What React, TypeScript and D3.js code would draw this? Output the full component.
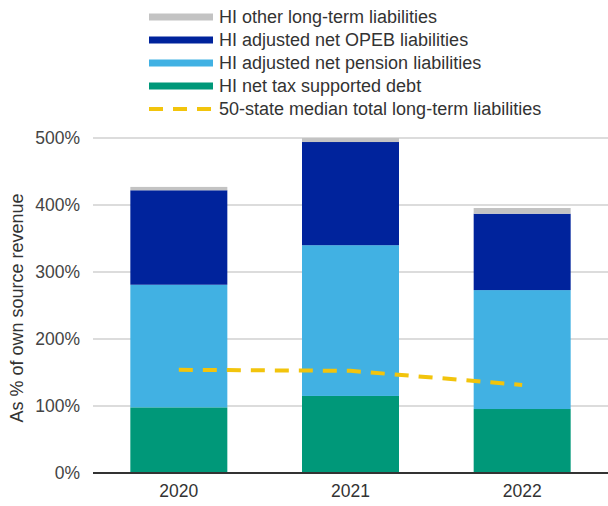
import React from "react";
import * as d3 from "d3";

const years = ["2020", "2021", "2022"];
const netTaxDebt = [98, 115, 95.5];
const pension = [183, 225, 177.5];
const opeb = [141, 154, 114];
const otherLiab = [5, 6, 8.5];
const medianTotal = [154, 152.5, 131.5];
const yTicks = [0, 100, 200, 300, 400, 500];

const seriesNames = [
  "HI net tax supported debt",
  "HI adjusted net pension liabilities",
  "HI adjusted net OPEB liabilities",
  "HI other long-term liabilities",
];
const seriesColors = ["#009879", "#41B1E3", "#00239C", "#C3C3C3"];
const medianName = "50-state median total long-term liabilities";
const medianColor = "#F2C40C";

const W = 608;
const H = 506;
const FONT = "'Liberation Sans', Arial, sans-serif";

export default function App() {
  const x = d3.scaleBand<string>().domain(years).range([93, 608]).paddingInner(0.435).paddingOuter(0.2175);
  const y = d3.scaleLinear().domain([0, 500]).range([473, 138]);

  const rows = years.map((yr, i) => ({
    year: yr,
    a: netTaxDebt[i],
    b: pension[i],
    c: opeb[i],
    d: otherLiab[i],
  }));
  const stack = d3.stack<any>().keys(["a", "b", "c", "d"])(rows);

  const line = d3
    .line<number>()
    .x((_, i) => (x(years[i]) as number) + x.bandwidth() / 2)
    .y((v) => y(v));

  const legendItems = [
    { name: seriesNames[3], color: seriesColors[3], dash: false },
    { name: seriesNames[2], color: seriesColors[2], dash: false },
    { name: seriesNames[1], color: seriesColors[1], dash: false },
    { name: seriesNames[0], color: seriesColors[0], dash: false },
    { name: medianName, color: medianColor, dash: true },
  ];

  return (
    <svg width={W} height={H} style={{ position: "absolute", left: 0, top: 0, background: "#fff" }} fontFamily={FONT}>
      <rect width={W} height={H} fill="#fff" />
      {/* legend */}
      {legendItems.map((it, i) => {
        const cy = 17 + i * 23;
        return (
          <g key={it.name}>
            {it.dash ? (
              <line x1={149} x2={213} y1={cy} y2={cy} stroke={it.color} strokeWidth={4} strokeDasharray="14 10" />
            ) : (
              <rect x={149} y={cy - 3.5} width={64} height={7} fill={it.color} />
            )}
            <text x={219} y={cy} dy="0.35em" fontSize={18} fill="#333">
              {it.name}
            </text>
          </g>
        );
      })}
      {/* gridlines */}
      {yTicks.map((t) => (
        <g key={t}>
          {t !== 0 && <line x1={93} x2={608} y1={y(t)} y2={y(t)} stroke="#d0d0d0" strokeWidth={1.5} />}
          <text x={80} y={y(t)} dy="0.35em" textAnchor="end" fontSize={17.5} fill="#444">
            {t}%
          </text>
        </g>
      ))}
      {/* bars */}
      {stack.map((s, si) => (
        <g key={si} fill={seriesColors[si]}>
          {s.map((d, i) => (
            <rect
              key={i}
              x={x(years[i]) as number}
              y={y(d[1])}
              width={x.bandwidth()}
              height={y(d[0]) - y(d[1])}
            />
          ))}
        </g>
      ))}
      {/* baseline */}
      <line x1={93} x2={608} y1={y(0)} y2={y(0)} stroke="#333" strokeWidth={2} />
      {/* median line */}
      <path d={line(medianTotal) || ""} fill="none" stroke={medianColor} strokeWidth={4} strokeDasharray="14 10" />
      {/* x labels */}
      {years.map((yr) => (
        <text key={yr} x={(x(yr) as number) + x.bandwidth() / 2} y={497} textAnchor="middle" fontSize={17.5} fill="#333">
          {yr}
        </text>
      ))}
      {/* y title */}
      <text transform={`translate(23, 308) rotate(-90)`} textAnchor="middle" fontSize={18} fill="#333">
        As % of own source revenue
      </text>
    </svg>
  );
}
